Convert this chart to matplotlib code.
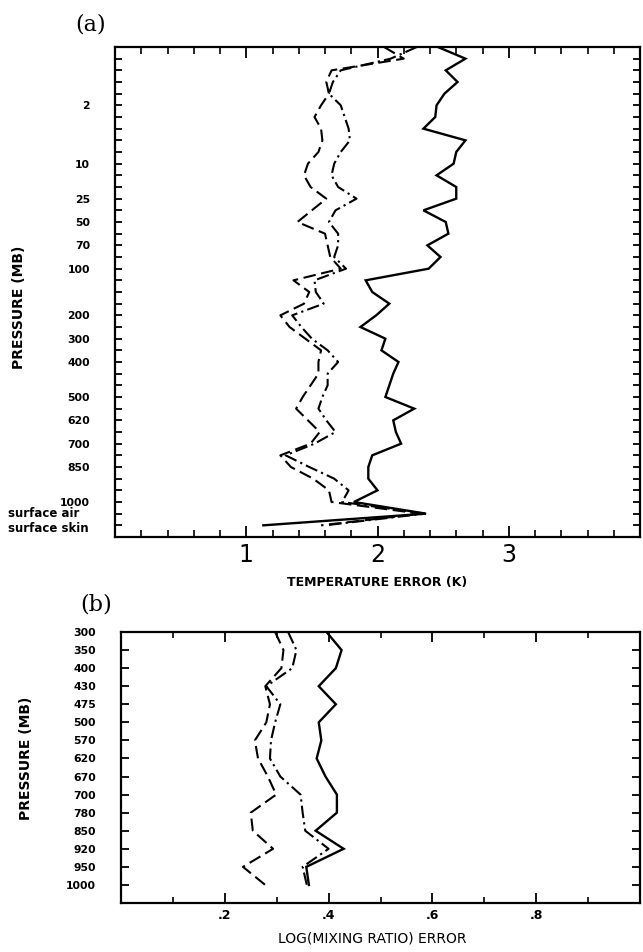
import matplotlib
matplotlib.use("Agg")
import matplotlib.pyplot as plt
import matplotlib.transforms as mtransforms
import numpy as np

plt.rcParams['lines.scale_dashes'] = False
plt.rcParams['font.family'] = ['DejaVu Sans']

# ---------------- data: panel (a) temperature error ----------------
levels_a = ['0.1', '0.2', '0.5', '1', '1.5', '2', '3', '4', '5', '7', '10', '15', '20',
            '25', '30', '50', '60', '70', '85', '100', '115', '135', '150', '200', '250',
            '300', '350', '400', '430', '475', '500', '570', '620', '670', '700', '780',
            '850', '920', '950', '1000', 'surface air', 'surface skin']
shown_a = ['2', '10', '25', '50', '70', '100', '200', '300', '400', '500', '620', '700',
           '850', '1000', 'surface air', 'surface skin']

temp_solid = [2.46, 2.67, 2.52, 2.61, 2.51, 2.45, 2.44, 2.35, 2.67, 2.60, 2.58, 2.45, 2.60,
              2.60, 2.35, 2.52, 2.54, 2.38, 2.48, 2.39, 1.91, 1.96, 2.09, 1.99, 1.87, 2.06,
              2.03, 2.16, 2.12, 2.09, 2.06, 2.28, 2.12, 2.14, 2.18, 1.96, 1.93, 1.93, 2.00,
              1.82, 2.37, 1.13]
temp_dash = [2.05, 2.20, 1.65, 1.61, 1.63, 1.57, 1.52, 1.57, 1.58, 1.55, 1.47, 1.44, 1.49,
             1.61, 1.50, 1.39, 1.60, 1.62, 1.64, 1.72, 1.36, 1.48, 1.44, 1.26, 1.33, 1.45,
             1.57, 1.55, 1.55, 1.49, 1.43, 1.38, 1.47, 1.56, 1.49, 1.26, 1.34, 1.51, 1.63,
             1.65, 2.33, 1.57]
temp_dashdot = [2.30, 2.10, 1.72, 1.66, 1.63, 1.72, 1.75, 1.78, 1.79, 1.72, 1.67, 1.65, 1.70,
                1.84, 1.68, 1.63, 1.70, 1.70, 1.67, 1.76, 1.52, 1.53, 1.59, 1.35, 1.42, 1.50,
                1.62, 1.70, 1.62, 1.62, 1.58, 1.55, 1.61, 1.68, 1.52, 1.30, 1.48, 1.67, 1.78,
                1.73, 2.36, 1.60]
xticks_a_major = [1, 2, 3]
xticklabels_a = ['1', '2', '3']

# ---------------- data: panel (b) log(mixing ratio) error ----------------
levels_b = ['300', '350', '400', '430', '475', '500', '570', '620', '670', '700', '780',
            '850', '920', '950', '1000']
mix_solid = [0.396, 0.425, 0.414, 0.381, 0.414, 0.381, 0.386, 0.377, 0.394, 0.416, 0.416,
             0.375, 0.429, 0.357, 0.362]
mix_dash = [0.297, 0.313, 0.309, 0.278, 0.287, 0.280, 0.258, 0.264, 0.283, 0.299, 0.250,
            0.254, 0.293, 0.235, 0.278]
mix_dashdot = [0.322, 0.338, 0.330, 0.280, 0.307, 0.297, 0.289, 0.287, 0.307, 0.346, 0.350,
               0.355, 0.400, 0.350, 0.358]
xticks_b_major = [0.2, 0.4, 0.6, 0.8]
xticklabels_b = ['.2', '.4', '.6', '.8']

W, H = 643, 952
fig = plt.figure(figsize=(W / 100, H / 100), dpi=100)


def px_axes(l, t, r, b):
    return fig.add_axes([l / W, 1 - b / H, (r - l) / W, (b - t) / H])


SOLID = dict(color='black', lw=1.7, solid_joinstyle='miter')
DASH = dict(color='black', lw=1.5, dashes=[9, 4])
DASHDOT = dict(color='black', lw=1.5, dashes=[9, 3, 1.6, 3])

# ---------------- panel (a) ----------------
ax = px_axes(115, 47, 640, 537)
ya = np.arange(len(levels_a))
ax.plot(temp_solid, ya, **SOLID)
ax.plot(temp_dash, ya, **DASH)
ax.plot(temp_dashdot, ya, **DASHDOT)
ax.set_xlim(0, 4)
ax.set_ylim(42, 0)
ax.set_yticks(ya, labels=[l if l in shown_a else '' for l in levels_a])
ax.set_xticks(xticks_a_major, labels=xticklabels_a)
ax.set_xticks(np.arange(0.2, 4.0, 0.2), minor=True)
ax.tick_params(axis='y', which='major', direction='in', length=5, width=1.3,
               left=True, right=True, pad=18, labelsize=7.8)
ax.tick_params(axis='x', which='major', direction='in', length=8, width=1.3,
               top=True, bottom=True, pad=4, labelsize=17)
ax.tick_params(axis='x', which='minor', direction='in', length=5, width=1.2,
               top=True, bottom=True)
for lab in ax.get_yticklabels():
    lab.set_fontweight('bold')
for t, lab in zip(ax.yaxis.get_major_ticks(), levels_a):
    if lab in ('surface air', 'surface skin'):
        t.label1.set_fontsize(8.5)
        t.label1.set_horizontalalignment('left')
        t.set_pad((115 - 8) * 72 / 100)
        dy = 1.6 if lab == 'surface air' else -1.6
        t.label1.set_transform(t.label1.get_transform() +
                               mtransforms.ScaledTranslation(0, dy / 100, fig.dpi_scale_trans))
for s in ax.spines.values():
    s.set_linewidth(1.6)
ax.set_xlabel('TEMPERATURE ERROR (K)', fontsize=9, fontweight='bold')
ax.set_ylabel('PRESSURE (MB)', fontsize=10, fontweight='bold')
ax.yaxis.set_label_coords((26 - 115) / 525, (537 - 307) / 490)
ax.xaxis.set_label_coords((377 - 115) / 525, -(576 - 537) / 490)
fig.text(75 / W, 1 - 24 / H, '(a)', fontsize=16, family='DejaVu Serif', va='center', ha='left')

# ---------------- panel (b) ----------------
bx = px_axes(121, 632, 640, 903)
yb = np.arange(len(levels_b))
bx.plot(mix_solid, yb, **SOLID)
bx.plot(mix_dash, yb, **DASH)
bx.plot(mix_dashdot, yb, **DASHDOT)
bx.set_xlim(0, 1)
bx.set_ylim(15, 0)
bx.set_yticks(yb, labels=levels_b)
bx.set_xticks(xticks_b_major, labels=xticklabels_b)
bx.set_xticks([0.1, 0.3, 0.5, 0.7, 0.9], minor=True)
bx.tick_params(axis='y', which='major', direction='in', length=6, width=1.3,
               left=True, right=True, pad=18, labelsize=7.8)
bx.tick_params(axis='x', which='major', direction='in', length=7, width=1.3,
               top=True, bottom=True, pad=4, labelsize=9)
bx.tick_params(axis='x', which='minor', direction='in', length=4, width=1.2,
               top=True, bottom=True)
for lab in bx.get_yticklabels() + bx.get_xticklabels():
    lab.set_fontweight('bold')
for s in bx.spines.values():
    s.set_linewidth(1.6)
bx.set_xlabel('LOG(MIXING RATIO) ERROR', fontsize=10)
bx.set_ylabel('PRESSURE (MB)', fontsize=10, fontweight='bold')
bx.yaxis.set_label_coords((33 - 121) / 519, (903 - 758) / 271)
bx.xaxis.set_label_coords((372 - 121) / 519, -(931 - 903) / 271)
fig.text(80 / W, 1 - 605 / H, '(b)', fontsize=16, family='DejaVu Serif', va='center', ha='left')

fig.savefig('out.png', dpi=100)
